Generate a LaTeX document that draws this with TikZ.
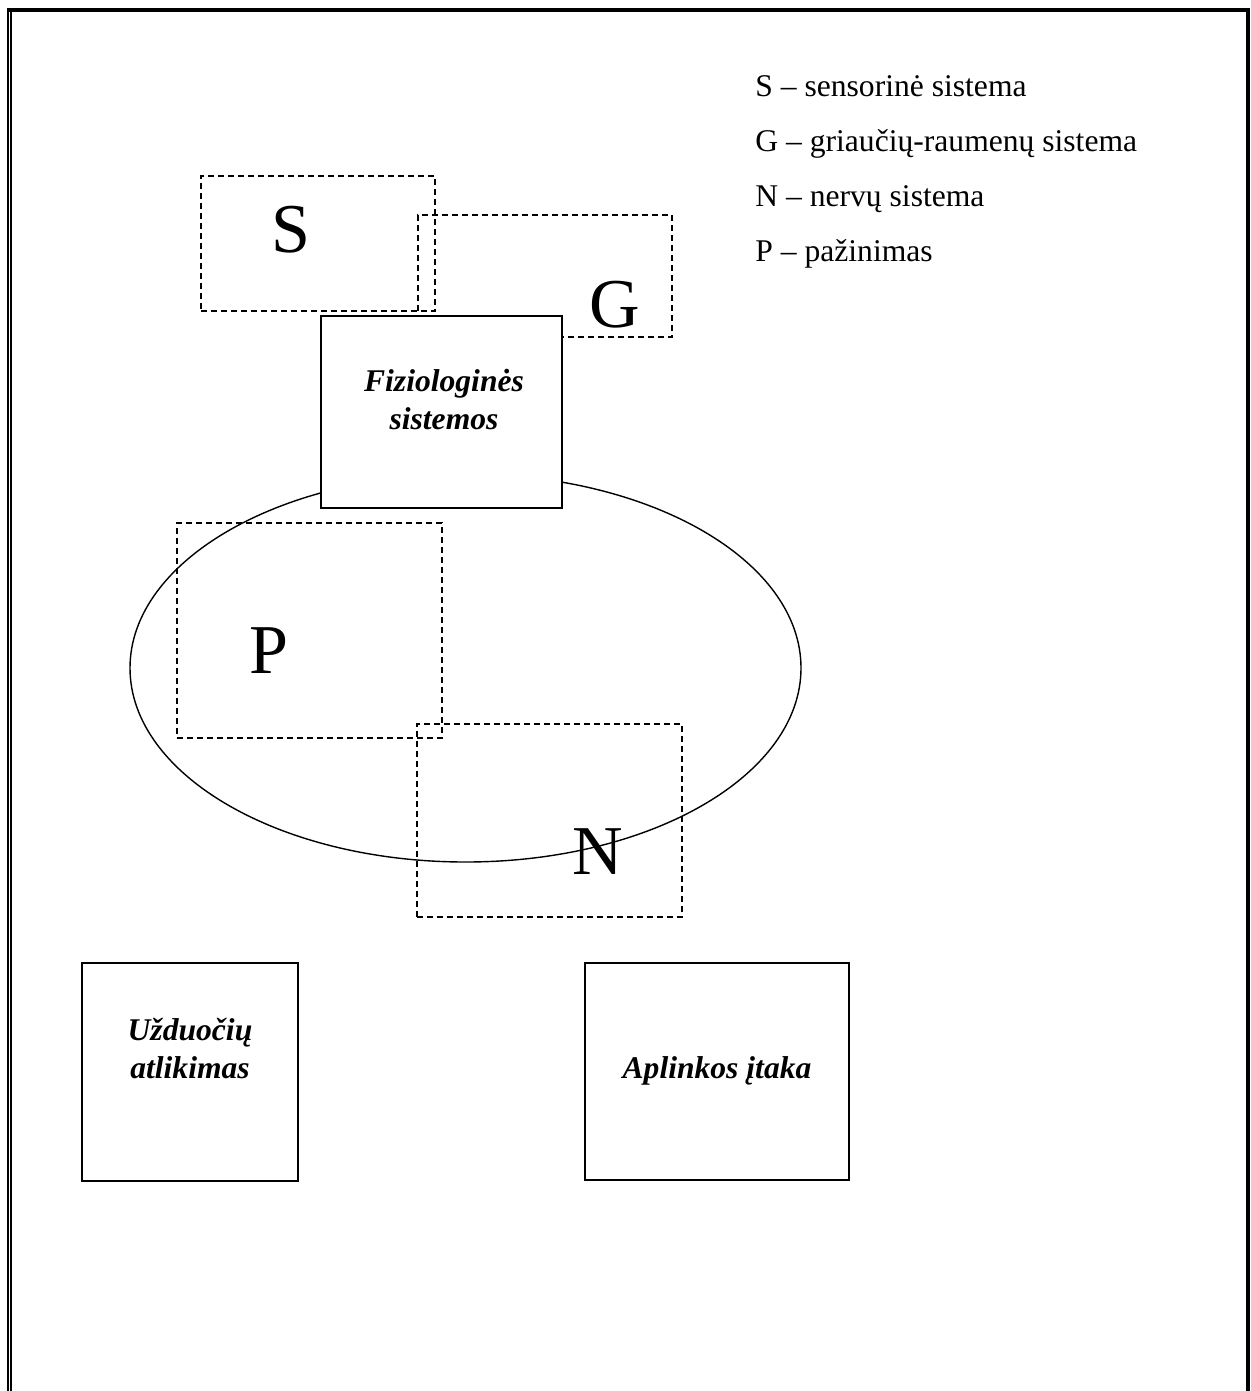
\documentclass[tikz,border=0pt]{standalone}
\usepackage{fontspec}
\setmainfont{Liberation Serif}
\usetikzlibrary{positioning, shapes.geometric}

\begin{document}
\begin{tikzpicture}[
        x=0.5pt, y=-0.5pt,
        font=\fontsize{15.8}{19}\selectfont,
        box/.style={rectangle, draw, line width=0.7pt, fill=white, inner sep=0pt},
        sysbox/.style={rectangle, draw, dash pattern=on 3pt off 2pt, line width=0.6pt, inner sep=0pt},
        letter/.style={font=\fontsize{35}{42}\selectfont, inner sep=0pt, anchor=base},
        title/.style={font=\fontsize{15.8}{19}\selectfont\bfseries\itshape, align=center, inner sep=0pt, anchor=base},
        legend/.style={inner sep=0pt, anchor=base west}
    ]
        \useasboundingbox (0,0) rectangle (1250,1391);

        % Page border
        \draw[line width=2pt] (7,10) -- (1248,10) -- (1248,1391);
        \draw[line width=1pt] (8,8) -- (8,1391);
        \draw[line width=1pt] (11,12) -- (11,1391);

        % Legend
        \node[legend] (legs) at (755,97) {S -- sensorinė sistema};
        \node[legend] (legg) at (755,152) {G -- griaučių-raumenų sistema};
        \node[legend] (legn) at (755,207) {N -- nervų sistema};
        \node[legend] (legp) at (755,262) {P -- pažinimas};

        % Upper systems
        \node[sysbox, minimum width=117pt, minimum height=67.5pt] (sbox) at (318,243.5) {};
        \node[sysbox, minimum width=127pt, minimum height=61pt] (gbox) at (545,276) {};
        \node[letter] (s) at (291,253) {S};
        \node[letter] (g) at (615,327) {G};

        % Ellipse
        \node[ellipse, draw, line width=0.7pt, inner sep=0pt, minimum width=335.5pt, minimum height=194pt] (cycle) at (465.5,668) {};

        % Physiological systems
        \node[box, minimum width=120.5pt, minimum height=96pt] (fizio) at (441.5,412) {};
        \node[title] (fiziotext) at (444,429.3) {Fiziologinės\\sistemos};

        % Lower systems
        \node[sysbox, minimum width=132.5pt, minimum height=107.5pt] (pbox) at (309.5,630.5) {};
        \node[sysbox, minimum width=132.5pt, minimum height=96.5pt] (nbox) at (549.5,820.5) {};
        \node[letter] (p) at (269,673) {P};
        \node[letter] (n) at (598,874) {N};

        % Task and environment
        \node[box, minimum width=108pt, minimum height=109pt] (uzd) at (190,1072) {};
        \node[title] (uzdtext) at (190,1078) {Užduočių\\atlikimas};
        \node[box, minimum width=132pt, minimum height=108.5pt] (aplink) at (717,1071.5) {};
        \node[title] (aplinktext) at (717,1078) {Aplinkos įtaka};
\end{tikzpicture}
\end{document}
